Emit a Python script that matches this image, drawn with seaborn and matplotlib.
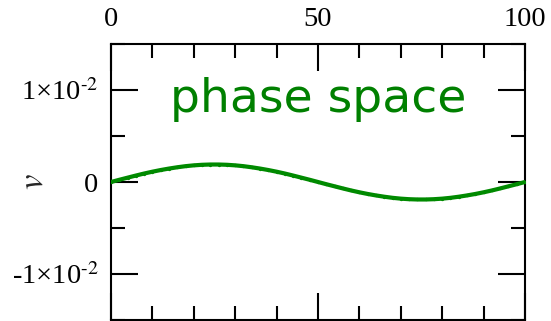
import matplotlib
matplotlib.use("Agg")
import matplotlib.pyplot as plt
from matplotlib.ticker import FixedLocator, MultipleLocator
import numpy as np
import pandas as pd
import seaborn as sns

# Sampled trajectory: position index and velocity v
x_vals = list(range(0, 101, 2))
v_vals = [
    0.0, 0.00024, 0.00047, 0.00070, 0.00092, 0.00112, 0.00130, 0.00146,
    0.00160, 0.00172, 0.00181, 0.00187, 0.00190, 0.00190, 0.00187, 0.00181,
    0.00172, 0.00160, 0.00146, 0.00130, 0.00112, 0.00092, 0.00070, 0.00047,
    0.00024, 0.0,
    -0.00024, -0.00047, -0.00070, -0.00092, -0.00112, -0.00130, -0.00146,
    -0.00160, -0.00172, -0.00181, -0.00187, -0.00190, -0.00190, -0.00187,
    -0.00181, -0.00172, -0.00160, -0.00146, -0.00130, -0.00112, -0.00092,
    -0.00070, -0.00047, -0.00024, 0.0,
]

x_ticks = [0, 50, 100]
x_tick_labels = ["0", "50", "100"]
y_ticks = [-0.01, 0.0, 0.01]
y_tick_labels = [r"-1×10$^{\text{-2}}$", "0", r"1×10$^{\text{-2}}$"]
title_text = "phase space"
y_label = r"$v$"

sns.set_theme(style="white")
plt.rcParams["font.family"] = ["Liberation Serif", "DejaVu Serif"]
plt.rcParams["mathtext.fontset"] = "stix"

df = pd.DataFrame({"x": x_vals, "v": v_vals})

fig = plt.figure(figsize=(5.51, 3.21), dpi=100)
ax = fig.add_axes([111 / 551, 1 - 320 / 321, 414 / 551, 276 / 321])

sns.lineplot(data=df, x="x", y="v", ax=ax, color="#008a00", linewidth=3.0,
             marker="o", markersize=2.4, markeredgewidth=0, zorder=3)

ax.set_xlim(0, 100)
ax.set_ylim(-0.015, 0.015)

ax.xaxis.set_major_locator(FixedLocator(x_ticks))
ax.set_xticklabels(x_tick_labels)
ax.xaxis.set_minor_locator(MultipleLocator(10))
ax.yaxis.set_major_locator(FixedLocator(y_ticks))
ax.set_yticklabels(y_tick_labels)
ax.yaxis.set_minor_locator(MultipleLocator(0.005))

ax.tick_params(axis="both", which="both", direction="in",
               top=True, bottom=True, left=True, right=True,
               labeltop=True, labelbottom=False, labelleft=True, labelright=False,
               colors="black", labelsize=20.5, pad=9)
ax.tick_params(which="major", length=19.5, width=1.5)
ax.tick_params(which="minor", length=10, width=1.5)

for sp in ax.spines.values():
    sp.set_linewidth(1.5)
    sp.set_color("black")

ax.set_xlabel("")
ax.set_ylabel(y_label, fontsize=25, rotation=90)
ax.yaxis.set_label_coords(-0.147, 0.5)

ax.text(0.5, 0.80, title_text, transform=ax.transAxes, ha="center", va="center",
        color="#008000", fontsize=34, family=["DejaVu Sans"])

fig.savefig("out.png", dpi=100)
